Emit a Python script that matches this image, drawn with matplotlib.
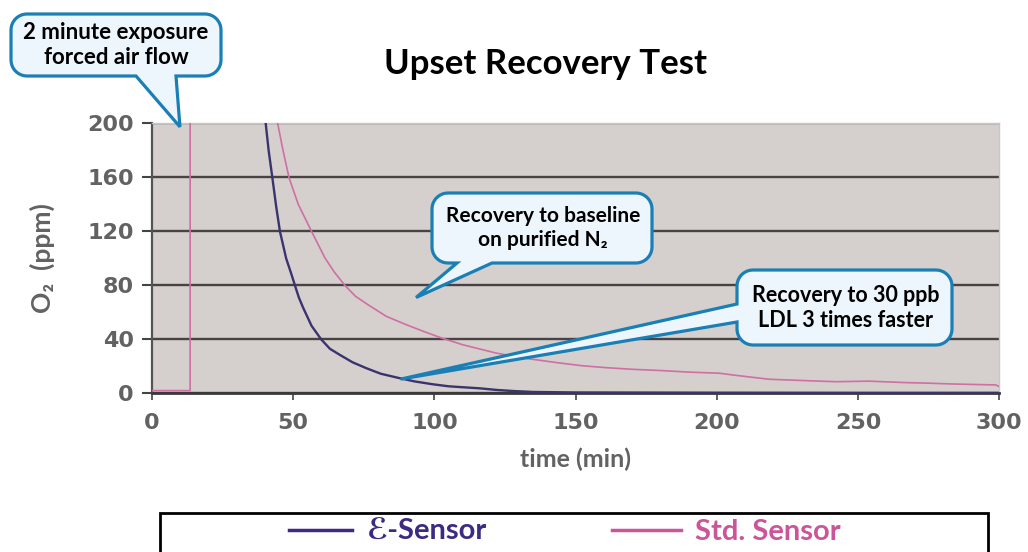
import matplotlib
matplotlib.use("Agg")
import matplotlib.pyplot as plt
import numpy as np
from matplotlib.patches import Polygon, Rectangle
from matplotlib.lines import Line2D

plt.rcParams['font.family'] = ['Lato', 'DejaVu Sans']

# data
e_time = [38, 40, 41.3, 42.6, 44, 45.3, 47.5, 49.4, 50.6, 52, 53.5, 56.5, 59.9, 63, 66.5,
          71, 75.9, 81, 87.7, 93, 99.4, 105, 110, 116, 122, 127.8, 135, 150, 200, 250, 300]
e_o2 = [230, 205, 180, 160, 138, 120, 100, 88, 80, 71, 63.5, 50, 40, 33, 28.5,
        23, 18.6, 14.5, 11.2, 8.8, 6.7, 5.2, 4.5, 3.7, 2.5, 1.7, 1.0, 0.6, 0.4, 0.3, 0.3]

std_time = [0, 13.5, 13.5, 43, 44.5, 46.4, 48.5, 51.8, 56.5, 61.2, 64.5, 68.3, 72, 76.6,
            83, 90.1, 96, 102.5, 110, 121.9, 132, 143.1, 152, 160.8, 170, 180.9, 190,
            200.9, 205.6, 212, 218.6, 230, 242.2, 254, 267, 275, 283.4, 292, 298.8, 300]
std_o2 = [2, 2, 400, 215, 200, 180, 160, 140, 120, 100.5, 90, 80, 72, 65.5,
          57, 50.8, 46, 41, 36, 29.8, 26, 22.8, 20.5, 19, 17.8, 16.8, 15.7,
          14.9, 13.6, 12, 10.4, 9.5, 8.6, 9.0, 7.9, 7.5, 6.9, 6.5, 6.2, 4.9]

x_ticks = [0, 50, 100, 150, 200, 250, 300]
y_ticks = [0, 40, 80, 120, 160, 200]

W, H = 1028, 552
fig = plt.figure(figsize=(W / 100, H / 100), dpi=100)
ax = fig.add_axes([152 / W, 1 - 393.3 / H, 847.3 / W, 269.8 / H])
ax.set_facecolor('#d5d0cd')

tick_grey = '#626262'
ax.plot(std_time, std_o2, color='#cf6fa2', lw=1.2, zorder=3)
ax.plot(e_time, e_o2, color='#3b336e', lw=1.7, zorder=4)

ax.set_xlim(0, 300)
ax.set_ylim(0, 200)
ax.set_xticks(x_ticks)
ax.set_yticks(y_ticks)
ax.set_xticklabels([str(v) for v in x_ticks], fontsize=16, fontweight='bold',
                   color=tick_grey, family='DejaVu Sans')
ax.set_yticklabels([str(v) for v in y_ticks], fontsize=16, fontweight='bold',
                   color=tick_grey, family='DejaVu Sans')
ax.tick_params(axis='y', length=7, width=1.5, color='#444444', pad=6)
ax.tick_params(axis='x', length=5, width=1.2, color='#444444', pad=9)
ax.grid(axis='y', color='#474343', lw=1.7, zorder=1)
ax.set_axisbelow(True)
for side in ['top', 'right']:
    ax.spines[side].set_color('#c9c6c4')
    ax.spines[side].set_linewidth(1)
ax.spines['left'].set_color('#555555')
ax.spines['left'].set_linewidth(1.6)
ax.spines['bottom'].set_color('#3a3a3a')
ax.spines['bottom'].set_linewidth(2)

ax.set_xlabel('time (min)', fontsize=18, fontweight='bold', color=tick_grey, labelpad=11)
fig.text(42 / W, 1 - 258 / H, 'O\u2082  (ppm)', rotation=90, ha='center', va='center',
         fontsize=19, fontweight='bold', color=tick_grey)

fig.text(545 / W, 1 - 64 / H, 'Upset Recovery Test', ha='center', va='center',
         fontsize=25, fontweight='bold', color='black')


def to_px(x, y):
    # data -> pixel coords with origin at top left
    dx, dy = ax.transData.transform((x, y))
    return dx, H - dy


def arc(cx, cy, r, a0, a1):
    a = np.radians(np.linspace(a0, a1, 10))
    return list(zip(cx + r * np.cos(a), cy + r * np.sin(a)))


def bubble(x0, y0, x1, y1, edge, b0, b1, tip, r=16):
    pts = []
    pts += arc(x0 + r, y0 + r, r, 180, 270)
    pts += arc(x1 - r, y0 + r, r, 270, 360)
    pts += arc(x1 - r, y1 - r, r, 0, 90)
    if edge == 'bottom':
        pts += [(b1, y1), tip, (b0, y1)]
    pts += arc(x0 + r, y1 - r, r, 90, 180)
    if edge == 'left':
        pts += [(x0, b1), tip, (x0, b0)]
    pts = [(px / W, 1 - py / H) for px, py in pts]
    fig.patches.append(Polygon(pts, closed=True, transform=fig.transFigure,
                               facecolor='#eef6fd', edgecolor='#1a7fb5', lw=2.3,
                               zorder=10))


def bubble_text(x, y, s, size):
    fig.text(x / W, 1 - y / H, s, ha='center', va='center', fontsize=size,
             fontweight='bold', color='black', zorder=11, linespacing=1.2)


bubble(11, 14, 221, 76, 'bottom', 136, 176, to_px(9.9, 197.5))
bubble_text(116, 45, '2 minute exposure\nforced air flow', 16)

bubble(432, 193, 652, 263, 'bottom', 457, 492, to_px(93.5, 71))
bubble_text(543, 228, 'Recovery to baseline\non purified N\u2082', 15)

bubble(737, 270, 952, 345, 'left', 304, 322, to_px(88, 10.5))
bubble_text(846, 308, 'Recovery to 30 ppb\nLDL 3 times faster', 15.5)

# legend box, cut off at the bottom edge
fig.patches.append(Rectangle((160 / W, 1 - 580 / H), 828 / W, 67 / H,
                             transform=fig.transFigure, facecolor='white',
                             edgecolor='black', lw=2))
e_col = '#3d2a82'
s_col = '#cc5599'
fig.lines.append(Line2D([289 / W, 352 / W], [1 - 530 / H] * 2, color=e_col, lw=2.5,
                        transform=fig.transFigure))
fig.text(367 / W, 1 - 532 / H, '\u2130-Sensor', ha='left', va='center', fontsize=21,
         fontweight='bold', color=e_col)
fig.lines.append(Line2D([612 / W, 681 / W], [1 - 530 / H] * 2, color=s_col, lw=2.5,
                        transform=fig.transFigure))
fig.text(695 / W, 1 - 532 / H, 'Std. Sensor', ha='left', va='center', fontsize=21,
         fontweight='bold', color=s_col)

fig.savefig('out.png', dpi=100)
